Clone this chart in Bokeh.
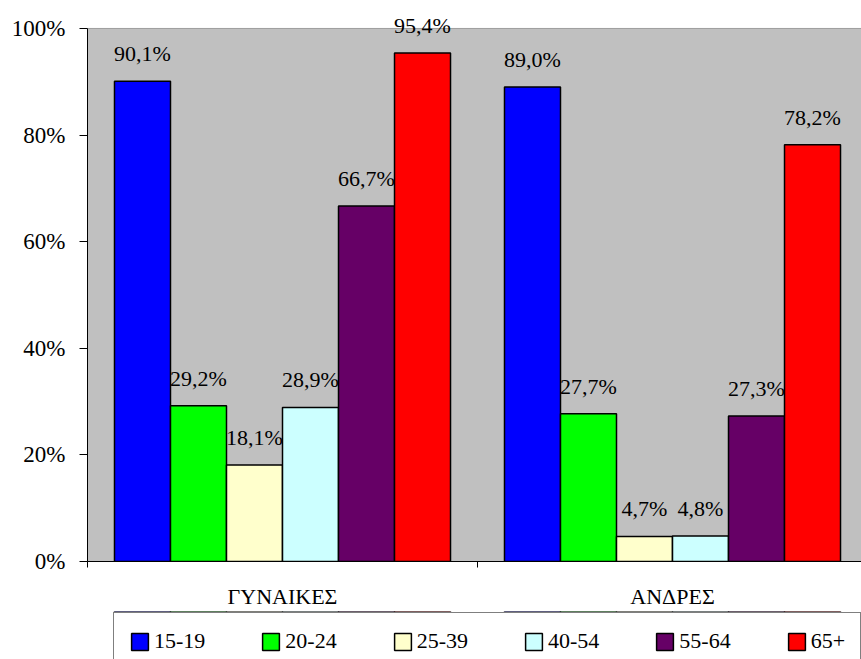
from bokeh.plotting import figure
from bokeh.layouts import column
from bokeh.models import (ColumnDataSource, LabelSet, Legend, LegendItem, FixedTicker,
                          PrintfTickFormatter, Range1d, BoxAnnotation)
from bokeh.core.properties import value
from bokeh.embed import file_html
from bokeh.resources import INLINE

# ---- data ----
groups = ["ΓΥΝΑΙΚΕΣ", "ΑΝΔΡΕΣ"]
ages = ["15-19", "20-24", "25-39", "40-54", "55-64", "65+"]
colors = ["#0000FF", "#00FF00", "#FFFFCC", "#CCFFFF", "#660066", "#FF0000"]
v_15_19 = [90.1, 89.0]
v_20_24 = [29.2, 27.7]
v_25_39 = [18.1, 4.7]
v_40_54 = [28.9, 4.8]
v_55_64 = [66.7, 27.3]
v_65_plus = [95.4, 78.2]
series = [v_15_19, v_20_24, v_25_39, v_40_54, v_55_64, v_65_plus]
y_ticks = [0, 20, 40, 60, 80, 100]

FONT = "Liberation Serif"
BAR_W = 0.1436
Y_MAX = 100
# plot area continues past the right edge of the page; some room above 100% for labels
X_END = len(groups) * 774 / 780
Y_END = Y_MAX * 562 / 534

p = figure(width=861, height=611, x_range=Range1d(0, X_END), y_range=Range1d(0, Y_END),
           output_backend="svg", toolbar_location=None,
           min_border_left=87, min_border_right=0, min_border_top=0, min_border_bottom=49,
           background_fill_color="white", border_fill_color="white",
           outline_line_color=None)
p.grid.visible = False

# grey plot area with its top border
p.add_layout(BoxAnnotation(bottom=0, top=Y_MAX, fill_color="#C0C0C0", fill_alpha=1,
                           line_color="black", line_width=1, level="underlay"))

# y axis
ya = p.yaxis[0]
ya.ticker = FixedTicker(ticks=y_ticks, minor_ticks=[])
ya.formatter = PrintfTickFormatter(format="%d%%")
ya.bounds = (0, Y_MAX)
ya.major_tick_out = 8
ya.major_tick_in = 0
ya.minor_tick_out = 0
ya.minor_tick_in = 0
ya.major_label_standoff = 14
ya.axis_line_color = "black"
ya.major_tick_line_color = "black"
ya.major_label_text_font = FONT
ya.major_label_text_font_size = "23px"
ya.major_label_text_color = "black"

# x axis
centers = [i + 0.5 for i in range(len(groups))]
xa = p.xaxis[0]
xa.ticker = FixedTicker(ticks=centers, minor_ticks=list(range(len(groups) + 1)))
xa.major_label_overrides = {c: g for c, g in zip(centers, groups)}
xa.major_tick_out = 0
xa.major_tick_in = 0
xa.minor_tick_out = 6
xa.minor_tick_in = 0
xa.minor_tick_line_color = "black"
xa.axis_line_color = "black"
xa.major_label_standoff = 16
xa.major_label_text_font = FONT
xa.major_label_text_font_size = "22px"
xa.major_label_text_color = "black"

# legend strip (separate figure below the chart, bars there lie outside its view)
lg = figure(width=861, height=48, x_range=Range1d(0, X_END), y_range=Range1d(-20, -10),
            output_backend="svg", toolbar_location=None,
            x_axis_location=None, y_axis_location=None,
            min_border_left=0, min_border_right=0, min_border_top=0, min_border_bottom=0,
            background_fill_color="white", border_fill_color="white",
            outline_line_color=None)
lg.grid.visible = False

items = []
for j, (age, vals, col) in enumerate(zip(ages, series, colors)):
    off = (j - (len(ages) - 1) / 2) * BAR_W
    src = ColumnDataSource(dict(
        x=[c + off for c in centers],
        top=vals,
        label=[("%.1f%%" % v).replace(".", ",") for v in vals],
    ))
    p.vbar(x="x", top="top", width=BAR_W, source=src, fill_color=col,
           line_color="black", line_width=1.5)
    r2 = lg.vbar(x="x", top="top", width=BAR_W, source=src, fill_color=col,
                 line_color="black", line_width=1.5)
    items.append(LegendItem(label=age, renderers=[r2]))
    p.add_layout(LabelSet(x="x", y="top", text="label", source=src, y_offset=20,
                          text_align="center", text_baseline="alphabetic",
                          text_font=value(FONT), text_font_size="22px",
                          text_color="black"))

legend = Legend(items=items, orientation="horizontal", location=(26, -11),
                border_line_color="black", border_line_width=1.5,
                background_fill_color="white", background_fill_alpha=1,
                label_text_font=FONT, label_text_font_size="22px",
                label_text_color="black",
                glyph_width=21, glyph_height=21, label_standoff=4,
                label_width=0, spacing=55, padding=15, margin=0)
lg.add_layout(legend)

layout = column(p, lg, spacing=0)
open("out.html", "w").write(file_html(layout, INLINE))
